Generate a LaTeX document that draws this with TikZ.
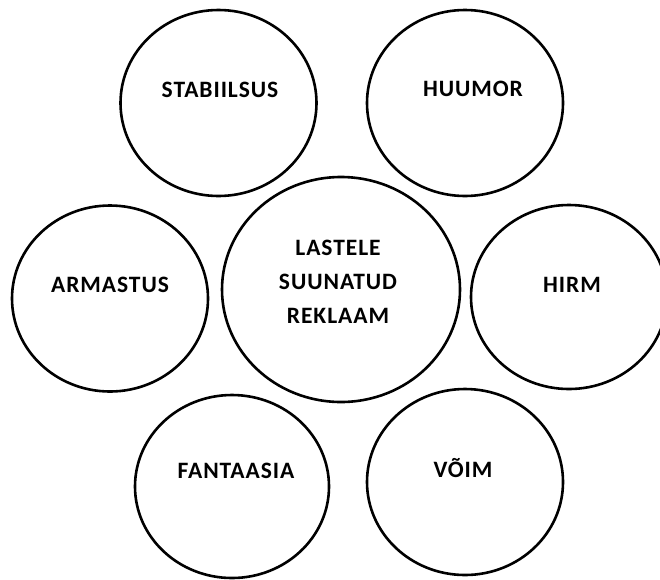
\documentclass[tikz,border=0pt]{standalone}
\usepackage{fontspec}
\setmainfont{Carlito}
\newfontfamily\ringfont[LetterSpace=4]{Carlito}
\usepackage{tikz}
\usetikzlibrary{shapes.geometric}

\begin{document}
\begin{tikzpicture}[x=1pt,y=-1pt,c/.style={draw,ellipse,line width=2.6pt,inner sep=0pt,outer sep=0pt,minimum width=196pt,minimum height=186pt},t/.style={align=center,inner sep=0pt,font=\ringfont\bfseries\fontsize{23.5}{34}\selectfont}]
\useasboundingbox (0,0) rectangle (660,579);
% ringid
\node[c] (stab) at (218.5,103) {};
\node[c] (huum) at (465,103) {};
\node[c,minimum width=238pt,minimum height=225pt] (kesk) at (341,289.5) {};
\node[c] (arm) at (110,298.5) {};
\node[c,minimum height=184pt] (hirm) at (569,297) {};
\node[c,minimum width=194pt,minimum height=183pt] (fant) at (232,486.5) {};
\node[c] (voim) at (465,482) {};
% tekstid
\node[t] (stabt) at ([shift={(1.5,-13)}]stab.center) {STABIILSUS};
\node[t] (huumt) at ([shift={(8,-14.5)}]huum.center) {HUUMOR};
\node[t] (keskt) at ([shift={(-3,-7.5)}]kesk.center) {LASTELE\\SUUNATUD\\REKLAAM};
\node[t] (armt) at ([shift={(0,-13.5)}]arm.center) {ARMASTUS};
\node[t] (hirmt) at ([shift={(3,-12)}]hirm.center) {HIRM};
\node[t] (fantt) at ([shift={(4,-15.5)}]fant.center) {FANTAASIA};
\node[t] (voimt) at ([shift={(-2,-14)}]voim.center) {VÕIM};
\end{tikzpicture}
\end{document}
